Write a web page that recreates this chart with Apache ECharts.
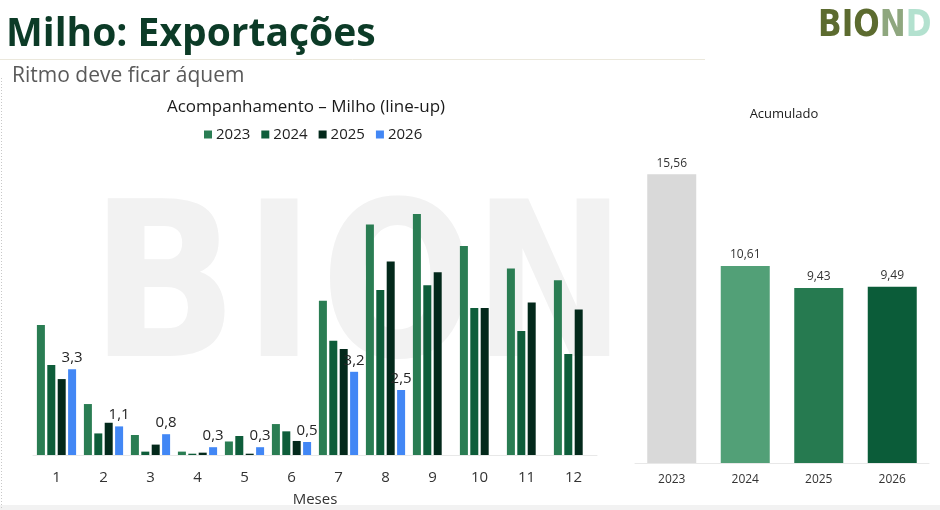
<!DOCTYPE html>
<html>
<head>
<meta charset="utf-8">
<script src="https://cdn.jsdelivr.net/npm/echarts@6/dist/echarts.min.js"></script>
<style>
  html, body { margin: 0; padding: 0; background: #fff; }
  #main { width: 940px; height: 510px; }
</style>
</head>
<body>
<div id="main"></div>
<script>
// meses (categorias do gráfico da esquerda)
var meses = ['1', '2', '3', '4', '5', '6', '7', '8', '9', '10', '11', '12'];

// line-up mensal por ano
var anos = ['2023', '2024', '2025', '2026'];
var milho2023 = [5.0, 1.96, 0.77, 0.13, 0.52, 1.19, 5.93, 8.87, 9.27, 8.04, 7.17, 6.72];
var milho2024 = [3.46, 0.83, 0.13, 0.05, 0.73, 0.91, 4.39, 6.35, 6.53, 5.65, 4.77, 3.88];
var milho2025 = [2.92, 1.24, 0.40, 0.09, 0.05, 0.54, 4.08, 7.44, 7.03, 5.65, 5.87, 5.60];
var milho2026 = [3.3, 1.1, 0.8, 0.3, 0.3, 0.5, 3.2, 2.5, null, null, null, null];

// acumulado (jan-jul)
var acumAnos = ['2023', '2024', '2025', '2026'];
var acumulado = [15.56, 10.61, 9.43, 9.49];

// cores
var coresMes = ['#2a7d53', '#0e5d3a', '#03291b', '#4287f5'];
var coresAcum = ['#d9d9d9', '#52a077', '#267a50', '#0b5c39'];

var fonte = '"Open Sans", "Noto Sans", sans-serif';

function virgula(v, casas) {
    return v.toFixed(casas).replace('.', ',');
}

var myChart = echarts.init(document.getElementById('main'));

// marca d'agua BION ao fundo (letra, x, escala horizontal)
var marca = [['B', 90, 1.0], ['I', 243, 1.0], ['O', 321, 0.93], ['N', 473, 0.94]];
var graficos = marca.map(function (m) {
    return {
        type: 'text',
        x: m[1],
        y: 300,
        scaleX: m[2],
        z: -10,
        silent: true,
        style: {
            text: m[0],
            fill: '#f2f2f2',
            font: 'bold 216px "DejaVu Sans Condensed", "DejaVu Sans", sans-serif',
            textAlign: 'left',
            textVerticalAlign: 'middle'
        }
    };
});

graficos = graficos.concat([
    {
        type: 'text',
        x: 6,
        y: 35,
        style: {
            text: 'Milho: Exportações',
            fill: '#0c3b27',
            font: 'bold 39px ' + fonte,
            textVerticalAlign: 'middle'
        }
    },
    {
        type: 'line',
        shape: { x1: 0, y1: 59.5, x2: 705, y2: 59.5 },
        style: { stroke: '#ebe8dc', lineWidth: 1 }
    },
    {
        type: 'line',
        shape: { x1: 1.5, y1: 78, x2: 1.5, y2: 510 },
        style: { stroke: '#c8c8c8', lineWidth: 1, lineDash: [1, 2] }
    },
    {
        type: 'rect',
        z: -10,
        shape: { x: 0, y: 505, width: 940, height: 5 },
        style: { fill: '#f2f2f2' }
    },
    {
        type: 'text',
        x: 12,
        y: 76,
        style: {
            text: 'Ritmo deve ficar áquem',
            fill: '#5a5a5a',
            font: '21px ' + fonte,
            textVerticalAlign: 'middle'
        }
    },
    {
        type: 'text',
        x: 306,
        y: 107,
        style: {
            text: 'Acompanhamento – Milho (line-up)',
            fill: '#1a1a1a',
            font: '17px ' + fonte,
            textAlign: 'center',
            textVerticalAlign: 'middle'
        }
    },
    {
        type: 'text',
        x: 784,
        y: 114,
        style: {
            text: 'Acumulado',
            fill: '#1a1a1a',
            font: '13px ' + fonte,
            textAlign: 'center',
            textVerticalAlign: 'middle'
        }
    },
    {
        // logo BIOND
        type: 'text',
        x: 818,
        y: 26,
        scaleX: 0.84,
        style: {
            text: '{a|BIO}{b|N}{c|D}',
            font: 'bold 37px "DejaVu Sans", sans-serif',
            textVerticalAlign: 'middle',
            rich: {
                a: { fill: '#5c6b2f', font: 'bold 37px "DejaVu Sans", sans-serif' },
                b: { fill: '#8fa77f', font: 'bold 37px "DejaVu Sans", sans-serif' },
                c: { fill: '#b3e1cf', font: 'bold 37px "DejaVu Sans", sans-serif' }
            }
        }
    }
]);

var seriesMes = [milho2023, milho2024, milho2025, milho2026].map(function (d, i) {
    var s = {
        name: anos[i],
        type: 'bar',
        xAxisIndex: 0,
        yAxisIndex: 0,
        barWidth: 8,
        barGap: '30%',
        data: d,
        itemStyle: { color: coresMes[i] }
    };
    if (i === 3) {
        s.label = {
            show: true,
            position: 'top',
            distance: 4,
            color: '#252525',
            fontSize: 15,
            fontFamily: fonte,
            formatter: function (p) { return virgula(p.value, 1); }
        };
    }
    return s;
});

var option = {
    animation: false,
    textStyle: { fontFamily: fonte },
    graphic: graficos,
    legend: {
        data: anos,
        top: 122,
        left: 199,
        itemWidth: 8,
        itemHeight: 8,
        itemGap: 11,
        icon: 'rect',
        textStyle: { fontSize: 15, color: '#222', padding: [0, 0, 0, -1] }
    },
    grid: [
        { left: 33, right: 343, top: 195, bottom: 55, outerBoundsMode: 'none' },
        { left: 635, right: 11, top: 166, bottom: 47, outerBoundsMode: 'none' }
    ],
    xAxis: [
        {
            gridIndex: 0,
            type: 'category',
            data: meses,
            axisLine: { lineStyle: { color: '#e8e8e8' } },
            axisTick: { show: false },
            axisLabel: { color: '#333', fontSize: 15, margin: 15 },
            name: 'Meses',
            nameLocation: 'middle',
            nameGap: 37,
            nameTextStyle: { color: '#333', fontSize: 15 }
        },
        {
            gridIndex: 1,
            type: 'category',
            data: acumAnos,
            axisLine: { lineStyle: { color: '#e8e8e8' } },
            axisTick: { show: false },
            axisLabel: { color: '#333', fontSize: 12, margin: 11 }
        }
    ],
    yAxis: [
        { gridIndex: 0, type: 'value', min: 0, max: 10, show: false },
        { gridIndex: 1, type: 'value', min: 0, max: 16, show: false }
    ],
    series: seriesMes.concat([
        {
            name: 'Acumulado',
            type: 'bar',
            xAxisIndex: 1,
            yAxisIndex: 1,
            barWidth: 49,
            data: acumulado.map(function (v, i) {
                return { value: v, itemStyle: { color: coresAcum[i] } };
            }),
            label: {
                show: true,
                position: 'top',
                distance: 5,
                color: '#333',
                fontSize: 12,
                formatter: function (p) { return virgula(p.value, 2); }
            }
        }
    ])
};

myChart.setOption(option);
</script>
</body>
</html>
